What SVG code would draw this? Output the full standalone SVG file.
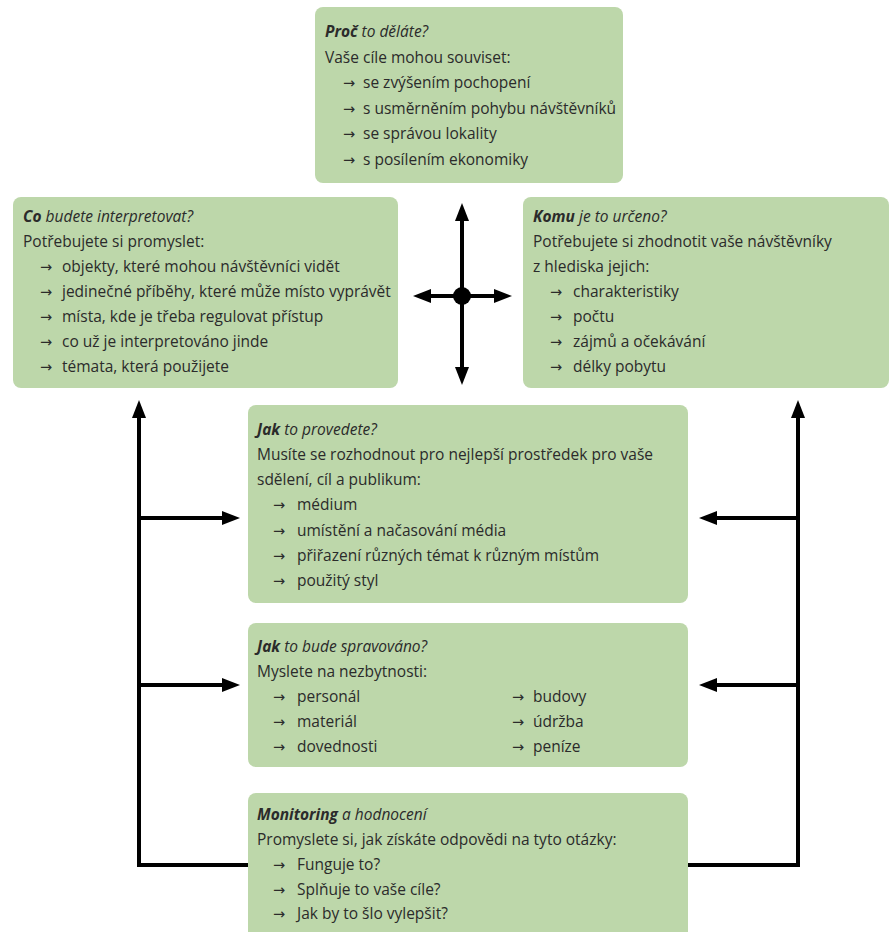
<svg xmlns="http://www.w3.org/2000/svg" width="892" height="932" viewBox="0 0 892 932">
<defs>
<style>
.box{fill:#bdd7aa;}
text{font-family:"Open Sans","Liberation Sans",Arial,sans-serif;font-size:15.5px;fill:#2b2b2b;}
.t{font-style:italic;}
.b{font-weight:bold;}
.ar{font-family:"DejaVu Sans",sans-serif;font-size:14.5px;}
.ln{fill:none;stroke:#000;stroke-width:4;}
</style>
<marker id="ah" markerUnits="userSpaceOnUse" markerWidth="18" markerHeight="14" refX="12" refY="7" orient="auto-start-reverse">
<path d="M0,0 L18,7 L0,14 z" fill="#000"/>
</marker>
</defs>
<rect width="892" height="932" fill="#ffffff"/>

<g id="node-proc">
<rect class="box" x="315" y="7" width="308" height="176" rx="8"/>
<text x="325" y="37" class="t"><tspan class="b">Proč</tspan> to děláte?</text>
<text x="325" y="62.5">Vaše cíle mohou souviset:</text>
<text x="343" y="88" class="ar">→</text><text x="363" y="88">se zvýšením pochopení</text>
<text x="343" y="113.5" class="ar">→</text><text x="363" y="113.5">s usměrněním pohybu návštěvníků</text>
<text x="343" y="139" class="ar">→</text><text x="363" y="139">se správou lokality</text>
<text x="343" y="164.5" class="ar">→</text><text x="363" y="164.5">s posílením ekonomiky</text>
</g>

<g id="node-co">
<rect class="box" x="13" y="197" width="385" height="191" rx="8"/>
<text x="23" y="222" class="t"><tspan class="b">Co</tspan> budete interpretovat?</text>
<text x="23" y="247">Potřebujete si promyslet:</text>
<text x="40" y="272" class="ar">→</text><text x="62" y="272">objekty, které mohou návštěvníci vidět</text>
<text x="40" y="297" class="ar">→</text><text x="62" y="297">jedinečné příběhy, které může místo vyprávět</text>
<text x="40" y="322" class="ar">→</text><text x="62" y="322">místa, kde je třeba regulovat přístup</text>
<text x="40" y="347" class="ar">→</text><text x="62" y="347">co už je interpretováno jinde</text>
<text x="40" y="372" class="ar">→</text><text x="62" y="372">témata, která použijete</text>
</g>

<g id="node-komu">
<rect class="box" x="523" y="197" width="366" height="191" rx="8"/>
<text x="533" y="222" class="t"><tspan class="b">Komu</tspan> je to určeno?</text>
<text x="533" y="247">Potřebujete si zhodnotit vaše návštěvníky</text>
<text x="533" y="272">z hlediska jejich:</text>
<text x="550" y="297" class="ar">→</text><text x="573" y="297">charakteristiky</text>
<text x="550" y="322" class="ar">→</text><text x="573" y="322">počtu</text>
<text x="550" y="347" class="ar">→</text><text x="573" y="347">zájmů a očekávání</text>
<text x="550" y="372" class="ar">→</text><text x="573" y="372">délky pobytu</text>
</g>

<g id="node-jak-provedete">
<rect class="box" x="248" y="405" width="440" height="198" rx="8"/>
<text x="257" y="435" class="t"><tspan class="b">Jak</tspan> to provedete?</text>
<text x="257" y="460">Musíte se rozhodnout pro nejlepší prostředek pro vaše</text>
<text x="257" y="485">sdělení, cíl a publikum:</text>
<text x="273" y="510" class="ar">→</text><text x="297" y="510">médium</text>
<text x="273" y="536" class="ar">→</text><text x="297" y="536">umístění a načasování média</text>
<text x="273" y="561" class="ar">→</text><text x="297" y="561">přiřazení různých témat k různým místům</text>
<text x="273" y="586" class="ar">→</text><text x="297" y="586">použitý styl</text>
</g>

<g id="node-jak-spravovano">
<rect class="box" x="248" y="623" width="440" height="144" rx="8"/>
<text x="257" y="652" class="t"><tspan class="b">Jak</tspan> to bude spravováno?</text>
<text x="257" y="677">Myslete na nezbytnosti:</text>
<text x="273" y="702" class="ar">→</text><text x="297" y="702">personál</text>
<text x="273" y="727" class="ar">→</text><text x="297" y="727">materiál</text>
<text x="273" y="752" class="ar">→</text><text x="297" y="752">dovednosti</text>
<text x="512" y="702" class="ar">→</text><text x="533" y="702">budovy</text>
<text x="512" y="727" class="ar">→</text><text x="533" y="727">údržba</text>
<text x="512" y="752" class="ar">→</text><text x="533" y="752">peníze</text>
</g>

<g id="node-monitoring">
<rect class="box" x="248" y="793" width="440" height="150" rx="8"/>
<text x="257" y="820" class="t"><tspan class="b">Monitoring</tspan> a hodnocení</text>
<text x="257" y="845">Promyslete si, jak získáte odpovědi na tyto otázky:</text>
<text x="273" y="870" class="ar">→</text><text x="297" y="870">Funguje to?</text>
<text x="273" y="895" class="ar">→</text><text x="297" y="895">Splňuje to vaše cíle?</text>
<text x="273" y="919" class="ar">→</text><text x="297" y="919">Jak by to šlo vylepšit?</text>
</g>

<g id="connectors">
<path class="ln" d="M462,209 V379" marker-start="url(#ah)" marker-end="url(#ah)"/>
<path class="ln" d="M419,296 H506" marker-start="url(#ah)" marker-end="url(#ah)"/>
<circle cx="462" cy="296" r="9" fill="#000"/>
<path class="ln" d="M248,865 H139 V406" marker-end="url(#ah)"/>
<path class="ln" d="M139,518 H234" marker-end="url(#ah)"/>
<path class="ln" d="M139,685 H234" marker-end="url(#ah)"/>
<path class="ln" d="M688,865 H798 V406" marker-end="url(#ah)"/>
<path class="ln" d="M798,518 H705" marker-end="url(#ah)"/>
<path class="ln" d="M798,685 H705" marker-end="url(#ah)"/>
</g>
</svg>
